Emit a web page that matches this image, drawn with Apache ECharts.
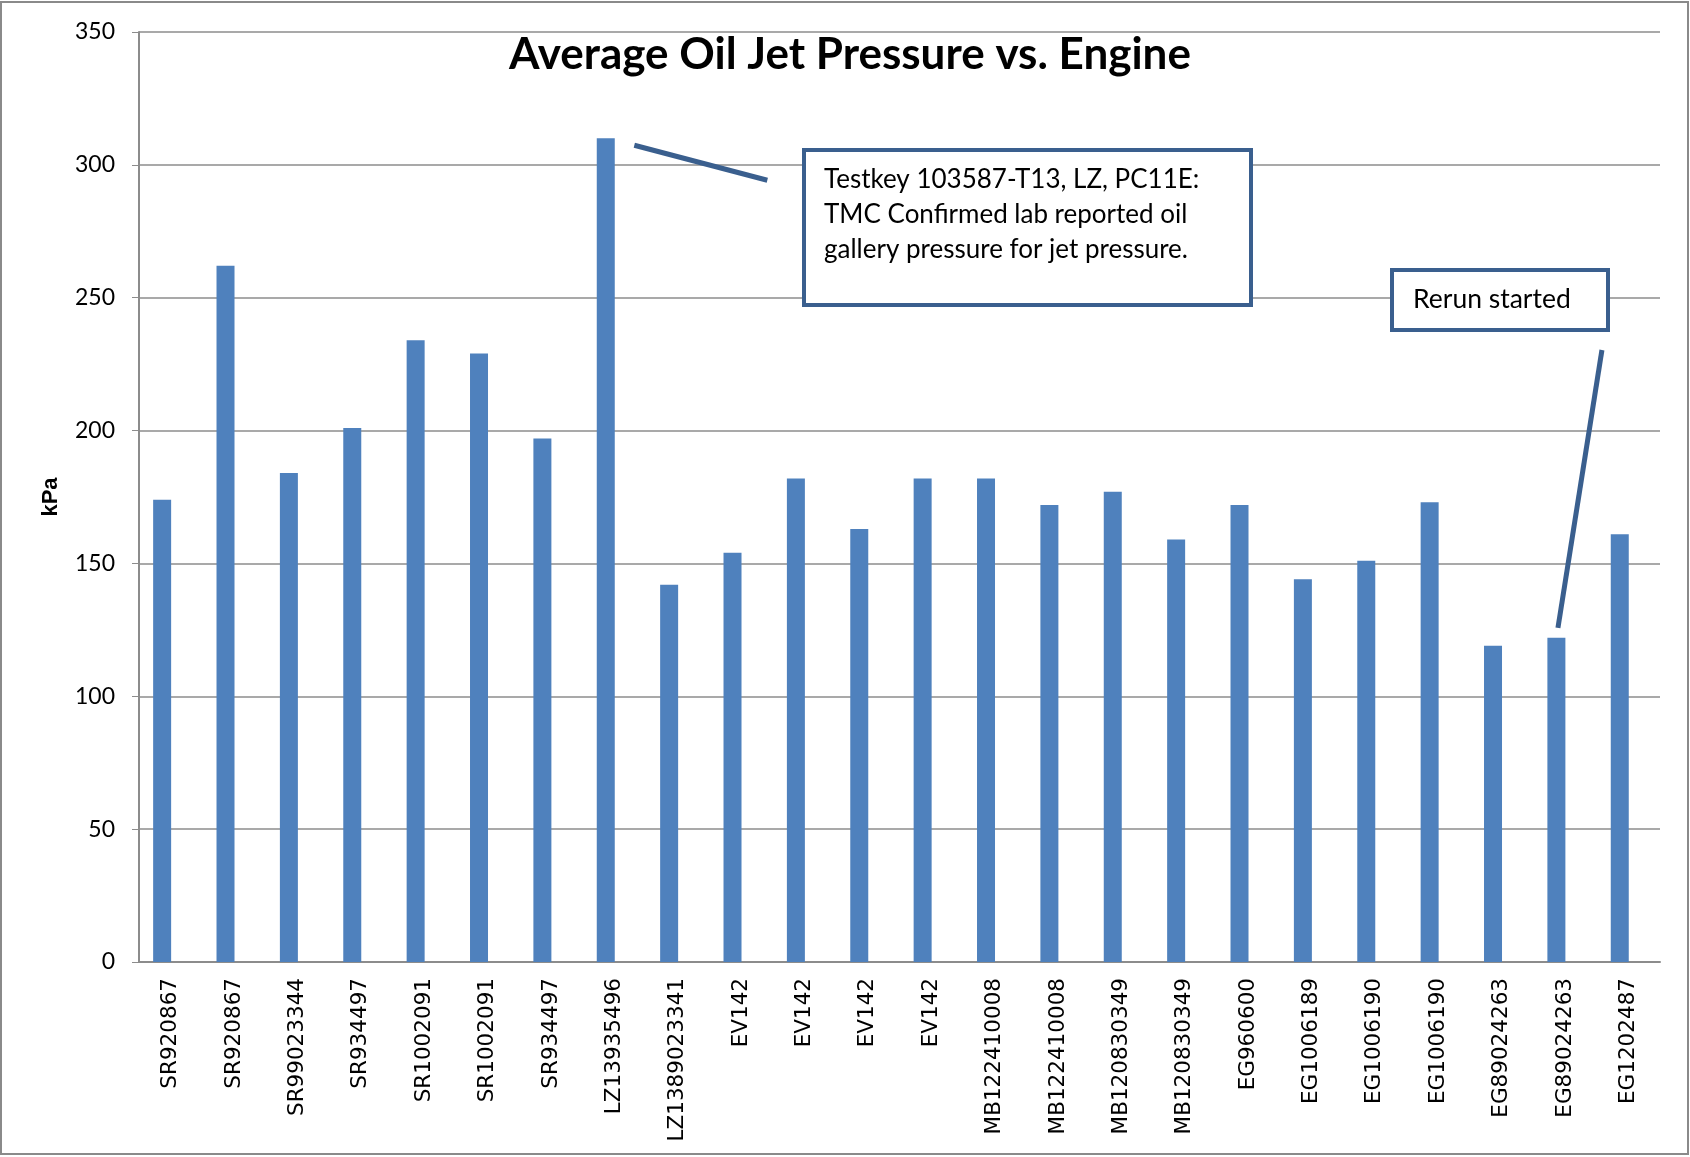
<!DOCTYPE html>
<html lang="en">
<head>
    <meta charset="UTF-8">
    <title>Average Oil Jet Pressure vs. Engine</title>
    <script src="https://cdn.jsdelivr.net/npm/echarts@6/dist/echarts.min.js"></script>
    <style>
        html, body { margin: 0; padding: 0; background: #fff; }
        #main { width: 1690px; height: 1157px; }
    </style>
</head>
<body>
    <div id="main"></div>

    <script>
        // data
        var engines = [
            'SR920867', 'SR920867', 'SR99023344', 'SR934497', 'SR1002091', 'SR1002091',
            'SR934497', 'LZ13935496', 'LZ1389023341', 'EV142', 'EV142', 'EV142', 'EV142',
            'MB122410008', 'MB122410008', 'MB120830349', 'MB120830349', 'EG960600',
            'EG1006189', 'EG1006190', 'EG1006190', 'EG89024263', 'EG89024263', 'EG1202487'
        ];
        var pressure = [
            174, 262, 184, 201, 234, 229,
            197, 310, 142, 154, 182, 163, 182,
            182, 172, 177, 159, 172,
            144, 151, 173, 119, 122, 161
        ];
        var yTicks = [0, 50, 100, 150, 200, 250, 300, 350];

        var note1 = ['Testkey 103587-T13, LZ, PC11E:', 'TMC Confirmed lab reported oil', 'gallery pressure for jet pressure.'];
        var note2 = 'Rerun started';

        var calibri = 'Lato, "Open Sans", sans-serif';
        var boxColor = '#3a5f8e';
        var gridGray = '#8c8c8c';

        var mycharts = echarts.init(document.getElementById('main'));

        var option = {
            animation: false,
            backgroundColor: '#fff',
            title: {
                text: 'Average Oil Jet Pressure vs. Engine',
                left: 845,
                top: 28,
                textAlign: 'center',
                textStyle: { fontFamily: calibri, fontWeight: 'bold', fontSize: 44, color: '#000' }
            },
            grid: { left: 139, right: 30, top: 32, bottom: 195, containLabel: false },
            xAxis: {
                type: 'category',
                data: engines,
                axisLine: { lineStyle: { color: gridGray, width: 2 } },
                axisTick: { show: false },
                axisLabel: {
                    rotate: 90,
                    interval: 0,
                    margin: 16,
                    fontFamily: '"DejaVu Sans", sans-serif',
                    fontSize: 21.5,
                    color: '#000'
                }
            },
            yAxis: {
                type: 'value',
                min: yTicks[0],
                max: yTicks[yTicks.length - 1],
                interval: 50,
                name: 'kPa',
                nameLocation: 'middle',
                nameRotate: 90,
                nameGap: 77,
                nameTextStyle: { fontFamily: '"Liberation Sans", Arial, sans-serif', fontWeight: 'bold', fontSize: 22, color: '#000' },
                axisLine: { show: true, lineStyle: { color: gridGray, width: 2 } },
                axisTick: { show: true, length: 7, lineStyle: { color: gridGray } },
                axisLabel: { margin: 24, fontFamily: calibri, fontSize: 23, color: '#000' },
                splitLine: { lineStyle: { color: gridGray, width: 1.5 } }
            },
            series: [
                {
                    type: 'bar',
                    name: 'Average Oil Jet Pressure',
                    data: pressure,
                    barWidth: 18,
                    barGap: '-5%',
                    itemStyle: { color: '#4f81bd' }
                },
                {
                    // empty second series of the source sheet, keeps bars left of the tick
                    type: 'bar',
                    name: 'blank',
                    data: [],
                    barWidth: 18
                }
            ]
        };

        mycharts.setOption(option);

        // callouts anchored on the categories they point to
        var top8 = mycharts.convertToPixel({ seriesIndex: 0 }, [7, pressure[7]]);
        var top23 = mycharts.convertToPixel({ seriesIndex: 0 }, [22, pressure[22]]);

        mycharts.setOption({
            graphic: [
                {
                    type: 'rect',
                    shape: { x: 1, y: 2, width: 1687, height: 1152 },
                    style: { fill: null, stroke: '#8a8a8a', lineWidth: 2 },
                    silent: true
                },
                {
                    type: 'line',
                    shape: { x1: top8[0] + 20, y1: top8[1] + 7, x2: top8[0] + 153, y2: top8[1] + 42 },
                    style: { stroke: boxColor, lineWidth: 5 }
                },
                {
                    type: 'rect',
                    shape: { x: 804, y: 150, width: 447, height: 155 },
                    style: { fill: '#fff', stroke: boxColor, lineWidth: 4 }
                },
                {
                    type: 'text',
                    x: 824,
                    y: 162,
                    style: {
                        text: note1.join('\n'),
                        fontFamily: calibri,
                        fontSize: 26,
                        lineHeight: 35,
                        fill: '#000'
                    }
                },
                {
                    type: 'rect',
                    shape: { x: 1392, y: 270, width: 216, height: 60 },
                    style: { fill: '#fff', stroke: boxColor, lineWidth: 4 }
                },
                {
                    type: 'text',
                    x: 1413,
                    y: 282,
                    style: { text: note2, fontFamily: calibri, fontSize: 26.5, lineHeight: 35, fill: '#000' }
                },
                {
                    type: 'line',
                    shape: { x1: top23[0] + 37, y1: 350, x2: top23[0] - 7, y2: top23[1] - 10 },
                    style: { stroke: boxColor, lineWidth: 5 }
                }
            ]
        });
    </script>
</body>
</html>
